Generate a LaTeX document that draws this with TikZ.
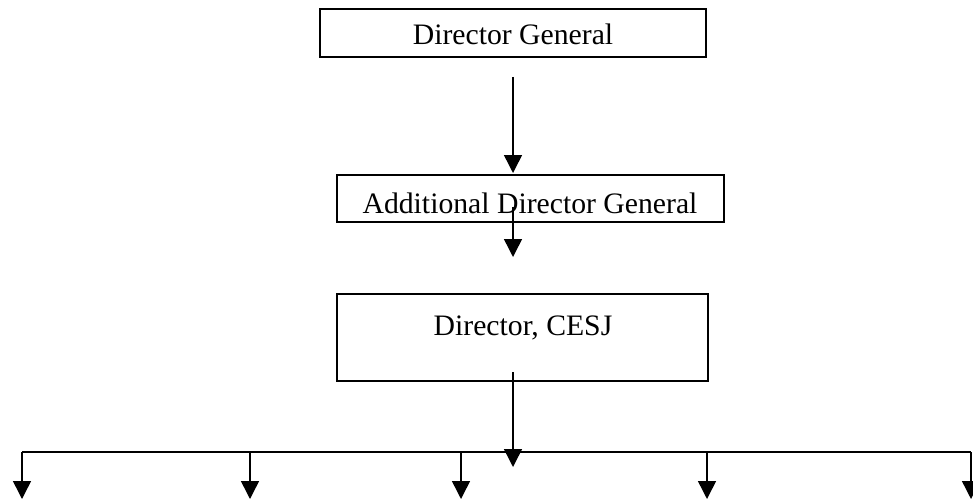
\documentclass[tikz,border=0pt]{standalone}
\usepackage{fontspec}
\setmainfont{Liberation Serif}
\usetikzlibrary{arrows.meta}
\begin{document}
\begin{tikzpicture}[x=1pt,y=-1pt,
  box/.style={draw=black,line width=1.6pt,inner sep=0pt,rectangle},
  lbl/.style={anchor=base,inner sep=0pt,font=\fontsize{29.7}{34}\selectfont},
  conn/.style={line width=1.5pt,-{Triangle[width=18pt,length=18pt]}},
  plain/.style={line width=1.5pt}]
\useasboundingbox (0,0) rectangle (973,500);
% boxes
\node[box,minimum width=386pt,minimum height=48pt] (dg) at (513,33) {};
\node[box,minimum width=387pt,minimum height=47pt] (adg) at (530.5,198.5) {};
\node[box,minimum width=371pt,minimum height=87pt] (cesj) at (522.5,337.5) {};
% labels
\node[lbl] (dgt) at (513,45) {Director General};
\node[lbl] (adgt) at (530,213) {Additional Director General};
\node[lbl] (cesjt) at (523,335) {Director, CESJ};
% connector points
\coordinate (s1) at (513,77);
\coordinate (e1) at (513,173);
\coordinate (s2) at (513,207);
\coordinate (e2) at (513,257);
\coordinate (s3) at (513,372);
\coordinate (e3) at (513,467);
\coordinate (hl) at (22,452);
\coordinate (hr) at (971,452);
\coordinate (b1) at (22,499);
\coordinate (b2) at (250,499);
\coordinate (b3) at (461,499);
\coordinate (b4) at (707,499);
\coordinate (b5) at (971,499);
\draw[conn] (s1) -- (e1);
\draw[conn] (s2) -- (e2);
\draw[conn] (s3) -- (e3);
\draw[plain] (hl) -- (hr);
\foreach \b in {b1,b2,b3,b4,b5}
  \draw[conn] (\b |- hl) -- (\b);
\end{tikzpicture}
\end{document}
